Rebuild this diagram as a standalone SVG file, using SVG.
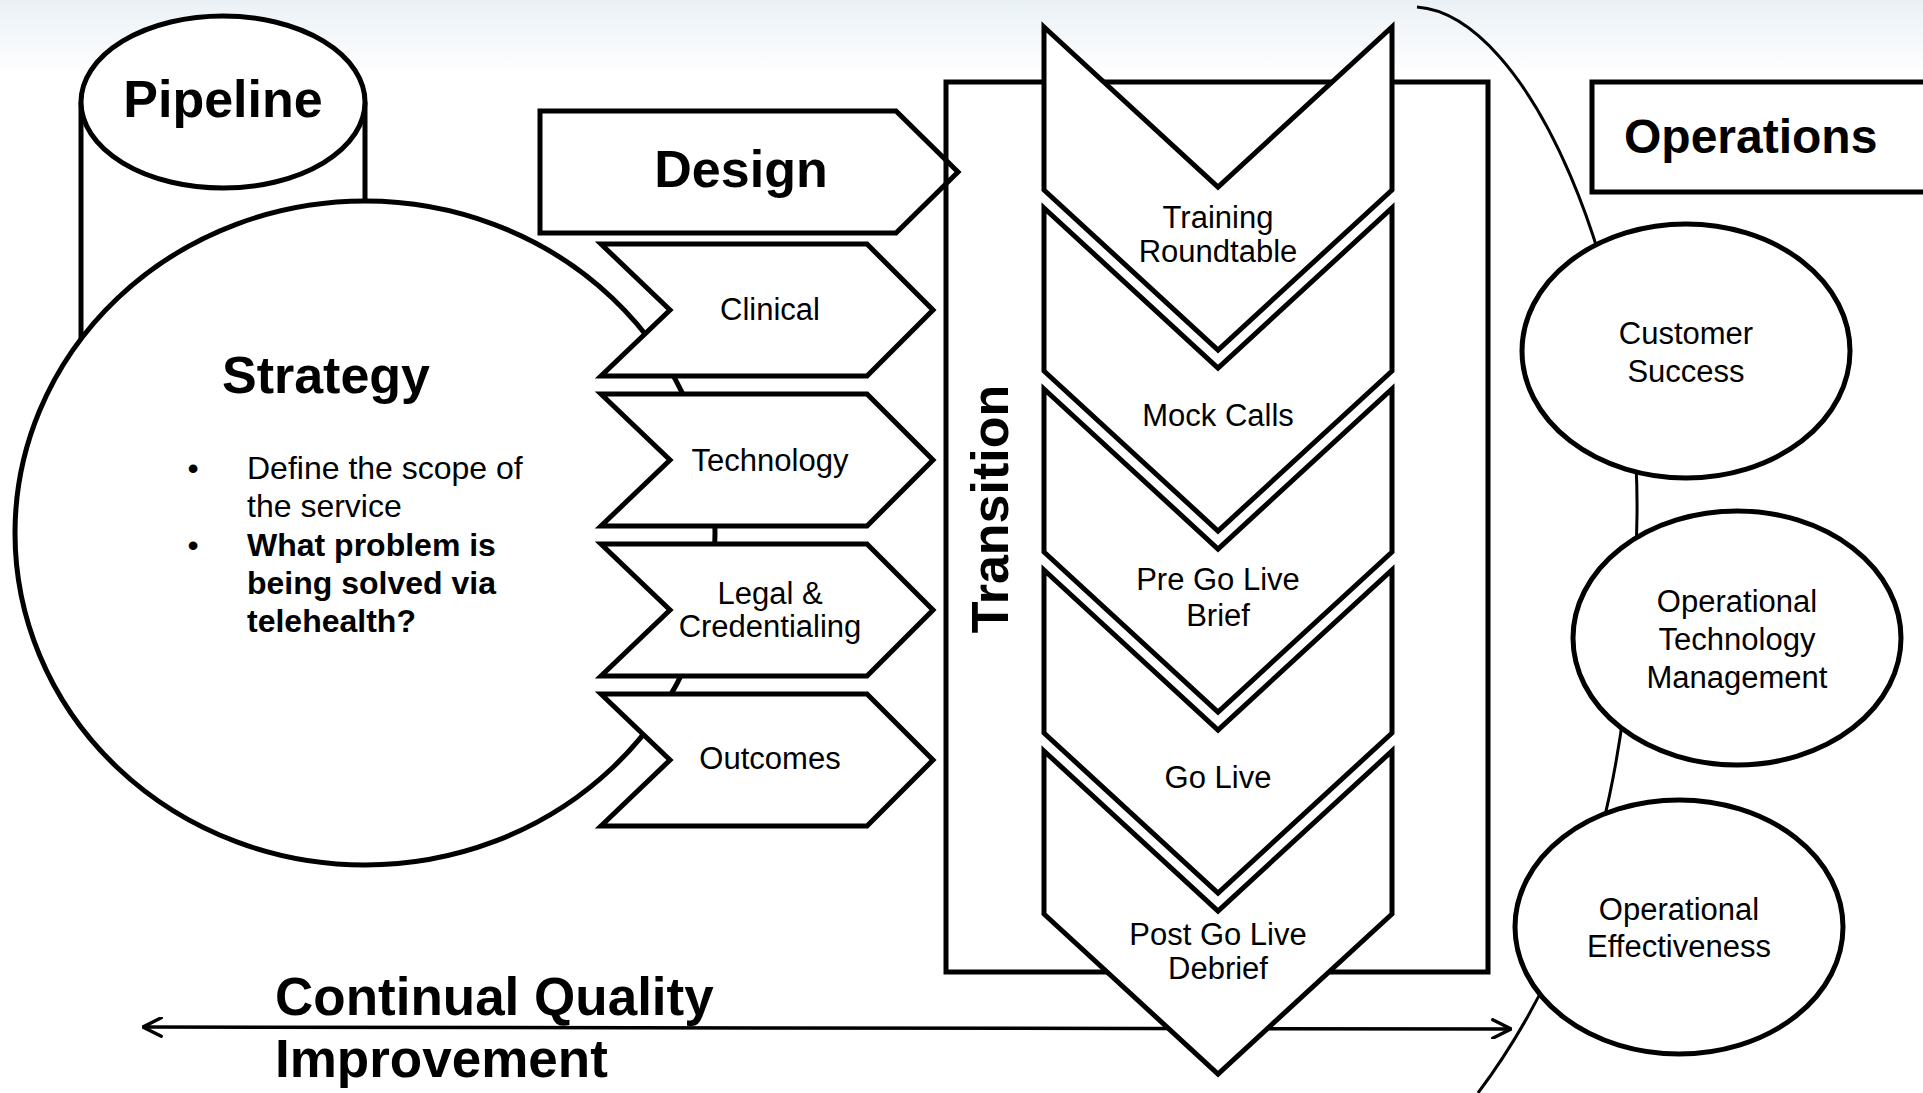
<svg xmlns="http://www.w3.org/2000/svg" width="1923" height="1093" viewBox="0 0 1923 1093">
<defs>
<linearGradient id="bg" x1="0" y1="0" x2="0" y2="1093" gradientUnits="userSpaceOnUse">
<stop offset="0" stop-color="#eaf1f6"/>
<stop offset="0.07" stop-color="#ffffff"/>
<stop offset="1" stop-color="#ffffff"/>
</linearGradient>
<marker id="arr" viewBox="0 0 10 10" refX="9.5" refY="5" markerWidth="6" markerHeight="6" orient="auto-start-reverse" markerUnits="strokeWidth">
<path d="M0.8 0.6 L9.5 5 L0.8 9.4" fill="none" stroke="#000" stroke-width="1.6" stroke-linecap="round" stroke-linejoin="miter"/>
</marker>
</defs>
<style>
.s{fill:#fff;stroke:#000;stroke-width:5;stroke-linejoin:miter}
.o{fill:none;stroke:#000;stroke-width:5}
.ln{fill:none;stroke:#000;stroke-width:3}
text{font-family:"Liberation Sans",Arial,sans-serif;fill:#000}
.h{font-weight:bold;font-size:52px;text-anchor:middle}
.t{font-size:31px;text-anchor:middle}
.b{font-size:32px}
.bb{font-size:32px;font-weight:bold}
.q{font-weight:bold;font-size:53px}
</style>
<rect x="0" y="0" width="1923" height="1093" fill="url(#bg)"/>

<g id="pipeline">
<rect x="81" y="102" width="284" height="300" fill="#fff" stroke="none"/>
<line x1="81" y1="102" x2="81" y2="400" class="o"/>
<line x1="365" y1="102" x2="365" y2="300" class="o"/>
<ellipse cx="223" cy="102" rx="142" ry="86" class="s"/>
<text x="223" y="117" class="h">Pipeline</text>
</g>

<g id="strategy">
<ellipse cx="365" cy="533" rx="350" ry="332" class="s"/>
<text x="326" y="393" class="h">Strategy</text>
<text x="193" y="479" class="b" text-anchor="middle">•</text>
<text x="247" y="479" class="b">Define the scope of</text>
<text x="247" y="517" class="b">the service</text>
<text x="193" y="556" class="b" text-anchor="middle">•</text>
<text x="247" y="556" class="bb">What problem is</text>
<text x="247" y="594" class="bb">being solved via</text>
<text x="247" y="632" class="bb">telehealth?</text>
</g>

<g id="design">
<path d="M540 111 L896 111 L958 172 L896 233 L540 233 Z" class="s"/>
<text x="741" y="187" class="h">Design</text>
</g>

<g id="clinical">
<path d="M601 244 L867 244 L933 310 L867 376 L601 376 L670 310 Z" class="s"/>
<text x="770" y="320" class="t">Clinical</text>
</g>
<g id="technology">
<path d="M601 394 L867 394 L933 460 L867 526 L601 526 L670 460 Z" class="s"/>
<text x="770" y="471" class="t">Technology</text>
</g>
<g id="legal">
<path d="M601 544 L867 544 L933 610 L867 676 L601 676 L670 610 Z" class="s"/>
<text x="770" y="604" class="t">Legal &amp;</text>
<text x="770" y="637" class="t">Credentialing</text>
</g>
<g id="outcomes">
<path d="M601 694 L867 694 L933 760 L867 826 L601 826 L670 760 Z" class="s"/>
<text x="770" y="769" class="t">Outcomes</text>
</g>

<g id="transition">
<rect x="946" y="82" width="542" height="890" class="o"/>
<text x="1008" y="509" class="h" transform="rotate(-90 1008 509)">Transition</text>
</g>

<g id="connectors">
<path d="M1417 7 C1530 15 1640 280 1637 515 C1634 740 1600 930 1478 1093" class="ln"/>
<line x1="143" y1="1027" x2="1511" y2="1029" stroke="#000" stroke-width="3.5" marker-start="url(#arr)" marker-end="url(#arr)"/>
</g>

<g id="training-roundtable">
<path d="M1044 27 L1218 187 L1392 27 L1392 190 L1218 350 L1044 190 Z" class="s"/>
<text x="1218" y="228" class="t">Training</text>
<text x="1218" y="262" class="t">Roundtable</text>
</g>
<g id="mock-calls">
<path d="M1044 208 L1218 368 L1392 208 L1392 371 L1218 531 L1044 371 Z" class="s"/>
<text x="1218" y="426" class="t">Mock Calls</text>
</g>
<g id="pre-go-live-brief">
<path d="M1044 389 L1218 549 L1392 389 L1392 552 L1218 712 L1044 552 Z" class="s"/>
<text x="1218" y="590" class="t">Pre Go Live</text>
<text x="1218" y="626" class="t">Brief</text>
</g>
<g id="go-live">
<path d="M1044 570 L1218 730 L1392 570 L1392 733 L1218 893 L1044 733 Z" class="s"/>
<text x="1218" y="788" class="t">Go Live</text>
</g>
<g id="post-go-live-debrief">
<path d="M1044 751 L1218 911 L1392 751 L1392 914 L1218 1074 L1044 914 Z" class="s"/>
<text x="1218" y="945" class="t">Post Go Live</text>
<text x="1218" y="979" class="t">Debrief</text>
</g>

<g id="operations">
<rect x="1592" y="82" width="340" height="110" class="s"/>
<text x="1624" y="153" font-size="48" font-weight="bold">Operations</text>
</g>

<g id="customer-success">
<ellipse cx="1686" cy="351" rx="164" ry="127" class="s"/>
<text x="1686" y="344" class="t">Customer</text>
<text x="1686" y="382" class="t">Success</text>
</g>
<g id="operational-technology-management">
<ellipse cx="1737" cy="638" rx="164" ry="127" class="s"/>
<text x="1737" y="612" class="t">Operational</text>
<text x="1737" y="650" class="t">Technology</text>
<text x="1737" y="688" class="t">Management</text>
</g>
<g id="operational-effectiveness">
<ellipse cx="1679" cy="927" rx="164" ry="127" class="s"/>
<text x="1679" y="920" class="t">Operational</text>
<text x="1679" y="957" class="t">Effectiveness</text>
</g>

<g id="cqi">
<text x="275" y="1015" class="q">Continual Quality</text>
<text x="275" y="1077" class="q">Improvement</text>
</g>
</svg>
